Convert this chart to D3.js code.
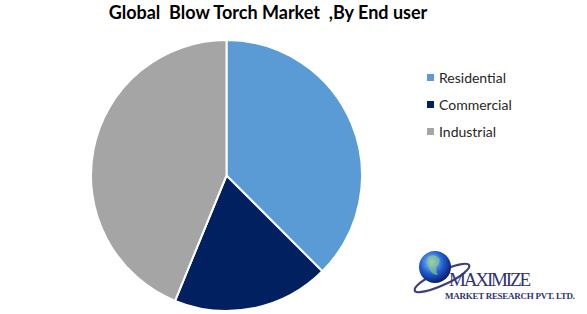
<!DOCTYPE html>
<html><head><meta charset="utf-8">
<script src="https://cdn.jsdelivr.net/npm/d3@7"></script>
<style>body{margin:0;background:#fff}svg{display:block}</style>
</head><body>
<script>
const categories = ["Residential", "Commercial", "Industrial"];
const values = [37.5, 18.7, 43.8];
const colors = ["#5B9BD5", "#002060", "#A5A5A5"];
const title = "Global  Blow Torch Market  ,By End user";

const W = 587, H = 314;
const svg = d3.select("body").append("svg").attr("width", W).attr("height", H);

svg.append("text").attr("x", 268).attr("y", 19).attr("text-anchor", "middle")
  .attr("font-family", "Lato, sans-serif").attr("font-weight", "bold")
  .attr("font-size", 18).attr("fill", "#000").attr("xml:space", "preserve")
  .text(title);

const cx = 226.5, cy = 175.5, r = 135.5;
const pie = d3.pie().sort(null).value(d => d)(values);
const arc = d3.arc().innerRadius(0).outerRadius(r);
const color = d3.scaleOrdinal().domain(categories).range(colors);
svg.append("g").attr("transform", `translate(${cx},${cy})`)
  .selectAll("path").data(pie).join("path")
  .attr("d", arc).attr("fill", (d, i) => color(categories[i]))
  .attr("stroke", "#fff").attr("stroke-width", 2);

const lg = svg.append("g");
const ly = d3.scalePoint().domain(categories).range([78, 132]);
categories.forEach(c => {
  lg.append("rect").attr("x", 427).attr("y", ly(c) - 4).attr("width", 7).attr("height", 7).attr("fill", color(c));
  lg.append("text").attr("x", 439).attr("y", ly(c) + 5)
    .attr("font-family", "Lato, sans-serif").attr("font-size", 14).attr("fill", "#262626").text(c);
});

// logo
const logo = svg.append("g");
const defs = svg.append("defs");
const gr = defs.append("radialGradient").attr("id", "gl").attr("cx", "40%").attr("cy", "35%").attr("r", "65%");
gr.append("stop").attr("offset", "0%").attr("stop-color", "#9fd3ff");
gr.append("stop").attr("offset", "55%").attr("stop-color", "#1f5fd0");
gr.append("stop").attr("offset", "100%").attr("stop-color", "#0a1e6e");
logo.append("ellipse").attr("cx", 442).attr("cy", 278).attr("rx", 30).attr("ry", 7)
  .attr("transform", "rotate(-25 442 278)").attr("fill", "none").attr("stroke", "#3a3f7a").attr("stroke-width", 2.2);
logo.append("circle").attr("cx", 435).attr("cy", 267).attr("r", 16).attr("fill", "url(#gl)");
logo.append("path").attr("d", "M428,257 q6,-4 11,1 q2,5 -2,8 q-2,5 1,9 q-6,0 -8,-5 q-4,-6 -2,-13z").attr("fill", "#8fd07a").attr("opacity", 0.6);
logo.append("text").attr("x", 449).attr("y", 286).attr("font-family", "Liberation Serif, serif")
  .attr("font-size", 19).attr("fill", "#2f3473").attr("textLength", 82).text("MAXIMIZE");
logo.append("text").attr("x", 445).attr("y", 299).attr("font-family", "Liberation Serif, serif")
  .attr("font-size", 9).attr("font-weight", "bold").attr("fill", "#2f3473").attr("textLength", 130).text("MARKET RESEARCH PVT. LTD.");
</script>
</body></html>
